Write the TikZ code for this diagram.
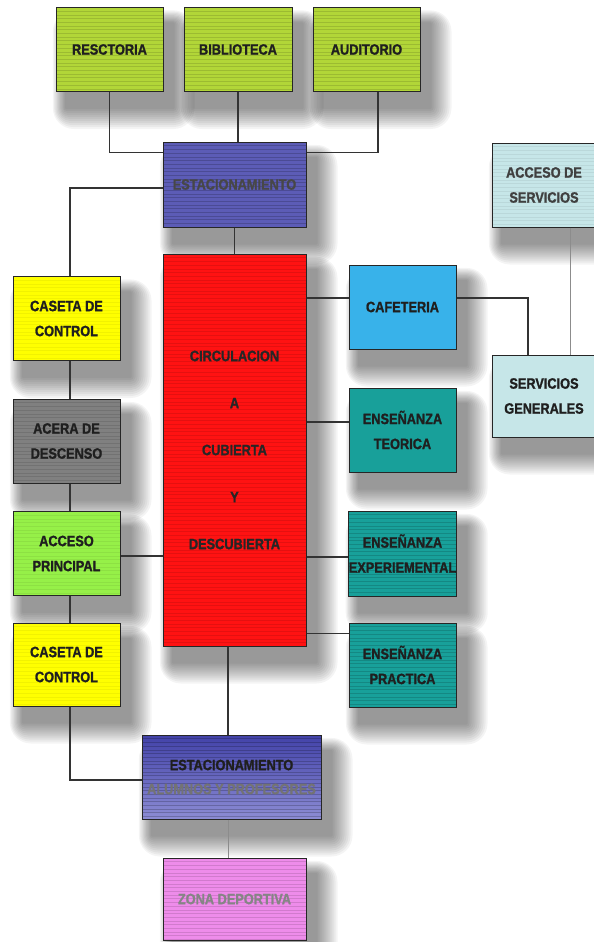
\documentclass[tikz,border=0pt]{standalone}
\usepackage{fontspec}
\setmainfont{Liberation Sans}[FakeStretch=0.85, BoldFeatures={FakeBold=1.2}]
\usetikzlibrary{calc}
\pgfdeclarelayer{bg}
\pgfsetlayers{bg,main}
\definecolor{cgreen}{RGB}{178,214,56}
\definecolor{cblue}{RGB}{92,92,182}
\definecolor{cred}{RGB}{255,18,18}
\definecolor{cyellow}{RGB}{255,255,0}
\definecolor{cgray}{RGB}{128,128,128}
\definecolor{clgreen}{RGB}{150,240,72}
\definecolor{ccafe}{RGB}{56,178,234}
\definecolor{cteal}{RGB}{24,160,154}
\definecolor{ccyan}{RGB}{198,230,232}
\definecolor{cdblue}{RGB}{66,66,168}
\definecolor{cpblue}{RGB}{140,140,212}
\definecolor{cpink}{RGB}{238,140,234}
\newcommand\softshadow[1]{%
  \foreach \r in {1,3,...,21}{%
    \fill[black, opacity=.045, rounded corners=\r pt]
      ($(#1.north west)+(10-\r*0.6,16-\r*0.6)$) rectangle ($(#1.south east)+(10+\r,16+\r)$);}}
\begin{document}
\begin{tikzpicture}[x=1pt,y=-1pt,
  box/.style={draw=black!85, line width=1pt, minimum width=107pt, minimum height=84pt,
    inner sep=0pt, align=center, text=black!88,
    font=\bfseries\fontsize{15}{25}\selectfont},
  stripes/.style={path picture={
    \foreach \k in {1,...,110}{
      \draw[black, opacity=#1, line width=.6pt]
        ([yshift=-\k*3.7pt]path picture bounding box.north west) --
        ([yshift=-\k*3.7pt]path picture bounding box.north east);}}},
  link/.style={draw=black!80, line width=1.1pt},
  faint/.style={draw=black!45, line width=.9pt}]

\useasboundingbox (0,0) rectangle (594,942);

% top row
\node[box, fill=cgreen, stripes=.12] (resc) at (109.5,49.5) {RESCTORIA};
\node[box, fill=cgreen, stripes=.12, minimum width=108pt] (bibl) at (238,49.5) {BIBLIOTECA};
\node[box, fill=cgreen, stripes=.12] (audi) at (366.5,49.5) {AUDITORIO};

\node[box, fill=cblue, stripes=.18, minimum width=143pt, minimum height=85pt, text=black!72] (estac) at (234.5,184.5) {ESTACIONAMIENTO};

% centre
\node[box, fill=cred, stripes=.1, minimum width=143pt, minimum height=392pt,
  text=black!85, font=\bfseries\fontsize{15}{47}\selectfont] (circ) at (234.5,450)
  {CIRCULACION\\A\\CUBIERTA\\Y\\DESCUBIERTA};

% left column
\node[box, fill=cyellow, stripes=.05] (cas1) at (66.5,318.5) {CASETA DE\\CONTROL};
\node[box, fill=cgray, stripes=.1] (acera) at (66.5,441) {ACERA DE\\DESCENSO};
\node[box, fill=clgreen, stripes=.06] (accp) at (66.5,553.5) {ACCESO\\PRINCIPAL};
\node[box, fill=cyellow, stripes=.05, minimum height=83pt] (cas2) at (66.5,664.5) {CASETA DE\\CONTROL};

% right column
\node[box, fill=ccafe] (cafe) at (402.5,307) {CAFETERIA};
\node[box, fill=cteal] (teo) at (402.5,430) {ENSEÑANZA\\TEORICA};
\node[box, fill=cteal, stripes=.15, minimum height=85pt] (exper) at (402.5,553.5) {ENSEÑANZA\\EXPERIEMENTAL};
\node[box, fill=cteal, stripes=.15] (prac) at (402.5,665) {ENSEÑANZA\\PRACTICA};

\node[box, fill=ccyan, stripes=.06, minimum width=104pt, text=black!75] (accs) at (544,185) {ACCESO DE\\SERVICIOS};
\node[box, fill=ccyan, minimum width=104pt, minimum height=82pt] (serv) at (544,396) {SERVICIOS\\GENERALES};

% bottom
\node[box, top color=cdblue, bottom color=cpblue, stripes=.2, minimum width=179pt,
  font=\bfseries\fontsize{15}{24}\selectfont] (estac2) at (231.5,777)
  {ESTACIONAMIENTO\\\textcolor{black!55}{ALUMNOS Y PROFESORES}};
\node[box, fill=cpink, stripes=.12, minimum width=143pt, minimum height=82pt, text=black!48] (zona) at (234.5,899) {ZONA DEPORTIVA};

% shadows and background
\begin{pgfonlayer}{bg}
  \fill[white] (0,0) rectangle (594,942);
  \foreach \n in {resc,bibl,audi,estac,circ,cas1,acera,accp,cas2,cafe,teo,exper,prac,accs,serv,estac2,zona}{%
    \softshadow{\n}}
\end{pgfonlayer}

% connectors
\draw[link] (resc.south) |- ($(estac.north west)+(0,11)$);
\draw[link] (bibl.south) -- (bibl.south |- estac.north);
\draw[link] ([xshift=11.5pt]audi.south) |- ($(estac.north east)+(0,11)$);
\draw[link] ($(estac.west)+(0,3.5)$) -| ([xshift=3.5pt]cas1.north);
\draw[link] (estac.south) -- (circ.north);
\draw[link] ([xshift=3.5pt]cas1.south) -- ([xshift=3.5pt]acera.north);
\draw[link] ([xshift=3.5pt]acera.south) -- ([xshift=3.5pt]accp.north);
\draw[link] ([xshift=3.5pt]accp.south) -- ([xshift=3.5pt]cas2.north);
\draw[link] ($(accp.east)+(0,2.5)$) -- ($(accp.east -| circ.west)+(0,2.5)$);
\draw[link] ([xshift=3.5pt]cas2.south) |- ($(estac2.west)+(0,3)$);
\draw[link] ([xshift=-6.5pt]circ.south) -- ([xshift=-6.5pt]circ.south |- estac2.north);
\draw[faint] ([xshift=-3.5pt]estac2.south) -- ([xshift=-3.5pt]estac2.south |- zona.north);
\draw[link] ($(cafe.west)+(0,-9)$) -- ($(cafe.west -| circ.east)+(0,-9)$);
\draw[link] ($(teo.west)+(0,-8)$) -- ($(teo.west -| circ.east)+(0,-8)$);
\draw[link] ($(exper.west)+(0,3.5)$) -- ($(exper.west -| circ.east)+(0,3.5)$);
\draw[link] ($(prac.north west)+(0,11)$) -- ($(prac.north west -| circ.east)+(0,11)$);
\draw[link] ($(cafe.east)+(0,-9)$) -| ([xshift=-16pt]serv.north);
\draw[faint] ([xshift=26pt]accs.south) -- ([xshift=26pt]serv.north);
\end{tikzpicture}
\end{document}
